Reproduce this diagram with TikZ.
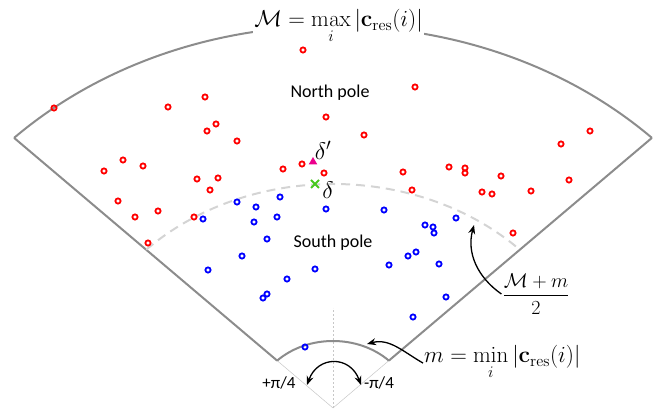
\RequirePackage{fix-cm}
\documentclass[tikz,border=0pt]{standalone}
\usepackage[no-math]{fontspec}
\usepackage{amsmath}
\newfontfamily\calibri{Carlito}
\usetikzlibrary{arrows.meta,shapes.geometric,shapes.misc}
\definecolor{rimgray}{RGB}{140,140,140}
\definecolor{halfgray}{RGB}{212,212,212}
\definecolor{crossgreen}{RGB}{70,200,30}
\begin{document}
\begin{tikzpicture}[x=1pt, y=1pt]
    \tikzset{
      rim/.style={draw=rimgray, line width=2pt},
      half/.style={draw=halfgray, line width=2pt, dash pattern=on 9pt off 6pt},
      guide/.style={draw=black!22, line width=0.5pt},
      rdot/.style={circle, draw=red, line width=1.8pt, inner sep=0pt, minimum size=5.2pt},
      bdot/.style={rdot, draw=blue},
      pole/.style={font=\calibri\fontsize{18}{22}\selectfont},
      quarter/.style={font=\calibri\fontsize{17}{20}\selectfont},
      eq/.style={font=\fontsize{23}{27}\selectfont, inner sep=1pt},
      pointer/.style={-{Stealth[length=9pt, width=7pt]}, line width=1.3pt},
    }
    \useasboundingbox (0,0) rectangle (664,414);
    \coordinate (apex) at (333,6);

    \path (apex) ++(135:79 and 67) coordinate (il);
    \path (apex) ++(45:79 and 67) coordinate (ir);
    \coordinate (vtop) at (333,106);
    \draw[guide] (apex) -- (il);
    \draw[guide] (apex) -- (ir);
    \draw[guide, line width=0.4pt, dash pattern=on 2pt off 2pt] (apex) -- (vtop);

    \draw[rim] (il) arc[start angle=135, end angle=45, x radius=79, y radius=67];
    \draw[rim] (apex) ++(135:451 and 382) coordinate (ol)
      arc[start angle=135, end angle=45, x radius=451, y radius=382] coordinate (or);
    \draw[rim] (il) -- (ol);
    \draw[rim] (ir) -- (or);
    \draw[half] (apex) ++(135:264 and 224) coordinate (hl)
      arc[start angle=135, end angle=45, x radius=264, y radius=224] coordinate (hr);

    \node[eq, fill=white, anchor=base] (mmax) at (338.5,387)
      {$\displaystyle \mathcal{M} = \max_i |\mathbf{c}_{\mathrm{res}}(i)|$};
    \node[eq, anchor=base west] (mmin) at (423,51)
      {$\displaystyle m = \min_i |\mathbf{c}_{\mathrm{res}}(i)|$};
    \node[eq, font=\fontsize{20}{24}\selectfont] (mid) at (536,120)
      {$\dfrac{\mathcal{M}+m}{2}$};

    \node[pole] (north) at (330,321) {North pole};
    \node[pole] (south) at (333,171) {South pole};
    \node[quarter] (qplus) at (279,31) {+π/4};
    \node[quarter] (qminus) at (379,31) {-π/4};

    \foreach \px/\py [count=\k] in {54/108, 168/107, 123/160, 143/166, 104/171,
        197/179, 118/201, 135/217, 158/211, 194/217, 148/243, 207/131, 216/124,
        218/178, 210/190, 303/50, 205/97, 415/87, 326/117, 237/141, 364/135,
        283/169, 302/164, 324/173, 403/172, 412/190, 449/167, 465/168, 465/173,
        590/131, 561/144, 501/176, 569/180, 482/192, 492/194, 531/191, 513/233}
      \node[rdot] (r\k) at (\px,414-\py) {};
    \foreach \px/\py [count=\k] in {203/219, 237/202, 256/207, 280/197, 254/222,
        277/217, 326/209, 384/210, 425/225, 433/227, 434/233, 456/218, 267/239,
        242/256, 208/270, 315/269, 287/279, 389/265, 408/256, 416/252, 439/264,
        267/294, 263/298, 446/297, 413/317, 305/347}
      \node[bdot] (b\k) at (\px,414-\py) {};

    \node[regular polygon, regular polygon sides=3, fill=magenta, inner sep=0pt,
      minimum size=10pt] (dtri) at (313,252) {};
    \node[cross out, draw=crossgreen, line width=2pt, inner sep=0pt,
      minimum size=6pt] (dcross) at (315,230) {};
    \node[eq, font=\fontsize{24}{27}\selectfont] (dprime) at (323,264) {$\delta'$};
    \node[eq, font=\fontsize{24}{27}\selectfont] (delta) at (328,224) {$\delta$};

    \coordinate (fa) at (474,189);
    \coordinate (ma) at (367,70);
    \coordinate (ql) at (307,29);
    \coordinate (qr) at (361,29);
    \draw[pointer] (mid.west) to[out=145, in=255] (fa);
    \draw[pointer] (mmin.west) to[out=150, in=15] (ma);
    \draw[pointer, {Stealth[length=9pt, width=7pt]}-{Stealth[length=9pt, width=7pt]}]
      (ql) to[out=70, in=110, looseness=1.5] (qr);
  \end{tikzpicture}
\end{document}
